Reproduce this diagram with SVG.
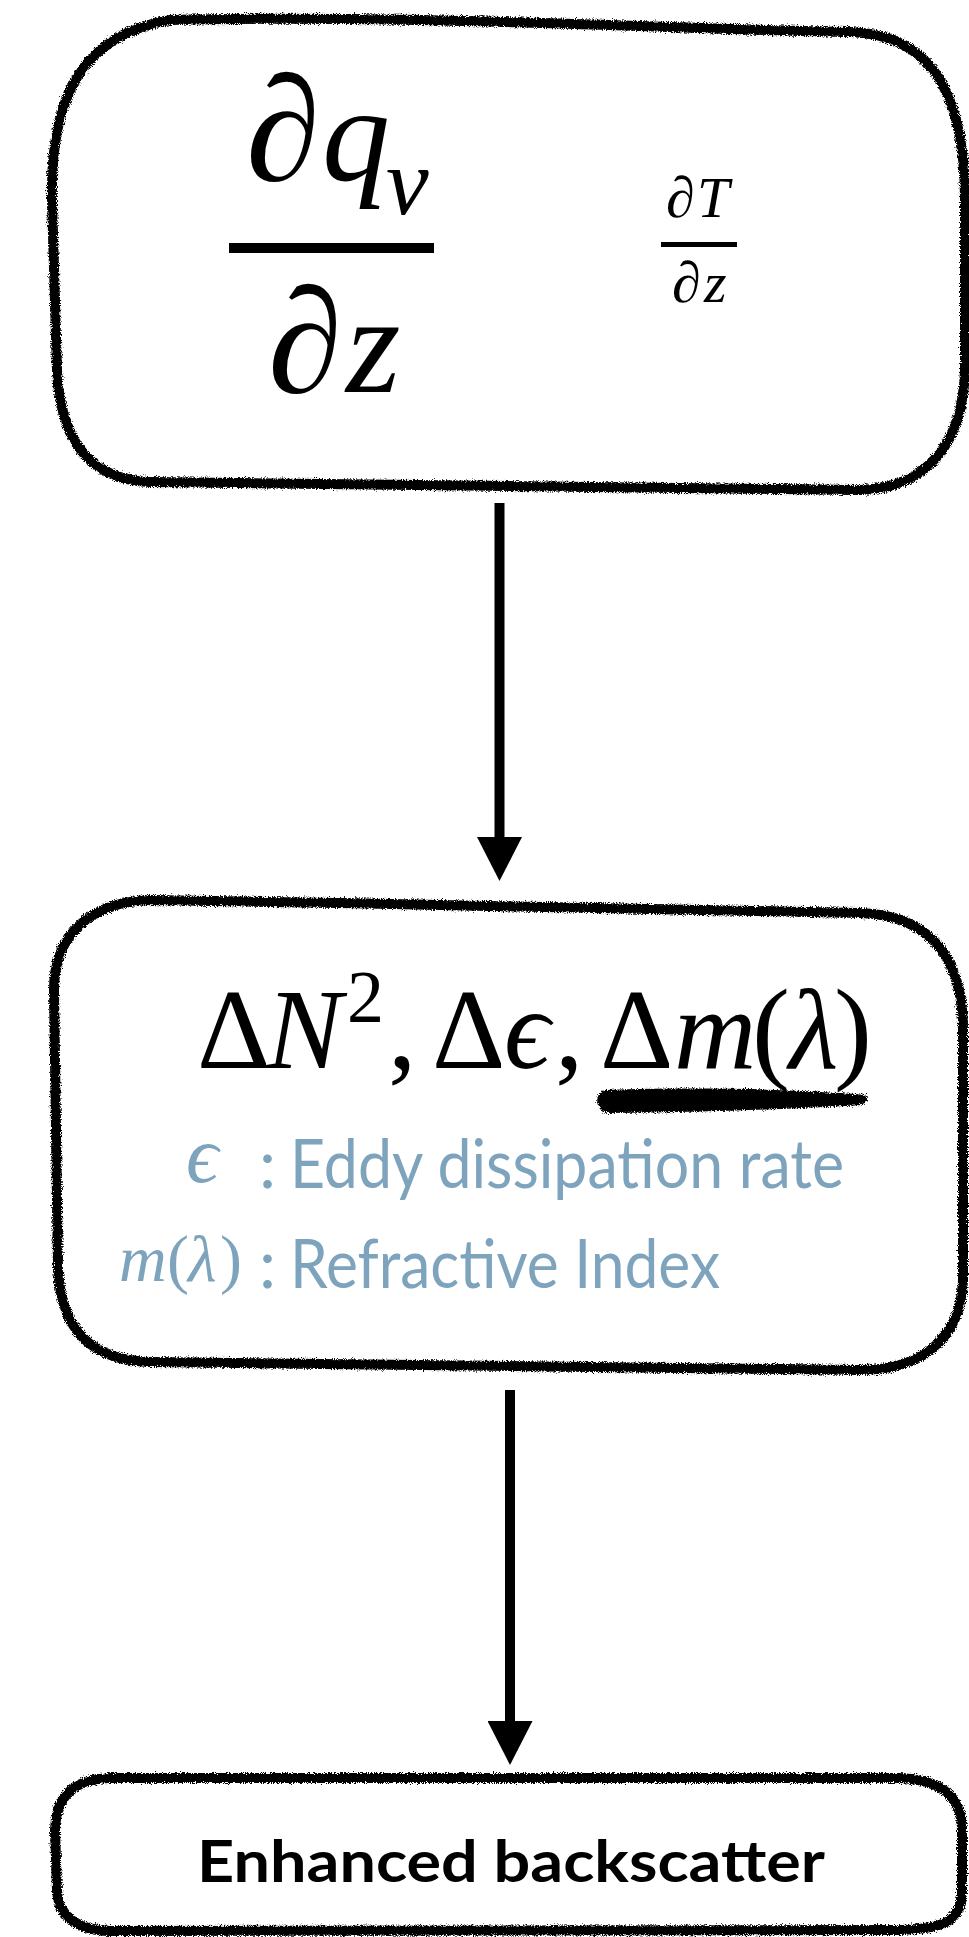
<svg xmlns="http://www.w3.org/2000/svg" width="969" height="1937" viewBox="0 0 969 1937">
<style>
.box{fill:none;stroke:#000;stroke-width:10;stroke-linejoin:round;filter:url(#rough)}
.math{font-family:"Liberation Serif","Times New Roman","DejaVu Serif",serif;fill:#000}
.it{font-style:italic}
.blue{fill:#7ea3bd}
.sans{font-family:Lato,"Open Sans","Liberation Sans",sans-serif}
.conn{stroke:#000;stroke-width:10;fill:none}
</style>
<defs>
<filter id="rough" x="-5%" y="-5%" width="110%" height="110%">
<feTurbulence type="fractalNoise" baseFrequency="1.1" numOctaves="2" seed="3" result="n"/>
<feDisplacementMap in="SourceGraphic" in2="n" scale="6" xChannelSelector="R" yChannelSelector="G"/>
</filter>
<marker id="head" viewBox="0 0 44 45" refX="0" refY="22.5" markerWidth="44" markerHeight="45" markerUnits="userSpaceOnUse" orient="auto">
<path d="M0 0 L44 22.5 L0 45 Z" fill="#000"/>
</marker>
</defs>
<rect width="969" height="1937" fill="#fff"/>

<g id="connectors">
<line class="conn" x1="499.5" y1="503" x2="499.5" y2="837" marker-end="url(#head)"/>
<line class="conn" x1="510" y1="1390" x2="510" y2="1721" marker-end="url(#head)"/>
</g>

<g id="node-gradients">
<path class="box" d="M170 20 C400 14 700 30 850 32 C922 34 965 80 965 200 L965 370 C963 440 930 488 860 490 L150 482 C90 480 60 440 57 370 L52 200 C50 100 80 35 170 20 Z"/>
<text class="math it"><tspan x="246" y="180" font-size="150">∂</tspan><tspan x="322" y="180" font-size="136">q</tspan><tspan x="386" y="214" font-size="96">v</tspan></text>
<rect x="229" y="243" width="205" height="10" fill="#000"/>
<text class="math it"><tspan x="268" y="392" font-size="150">∂</tspan><tspan x="346" y="392" font-size="140">z</tspan></text>
<text class="math it" font-size="58"><tspan x="666" y="217">∂</tspan><tspan x="697" y="217">T</tspan></text>
<rect x="661" y="242" width="76" height="5" fill="#000"/>
<text class="math it" font-size="58"><tspan x="672" y="302">∂</tspan><tspan x="704" y="302">z</tspan></text>
</g>

<g id="node-changes">
<path class="box" d="M150 900 C400 903 700 912 860 913 C932 915 963 960 963 1030 L963 1280 C961 1340 920 1370 860 1370 L150 1362 C90 1360 62 1330 58 1270 L54 990 C54 935 90 902 150 900 Z"/>
<text class="math" font-size="114" y="1068"><tspan x="197">Δ</tspan><tspan x="266" class="it">N</tspan><tspan x="347" y="1022" font-size="74">2</tspan><tspan x="388" y="1068">,</tspan><tspan x="432">Δ</tspan><tspan x="504" class="it">ϵ</tspan><tspan x="555">,</tspan><tspan x="600">Δ</tspan><tspan x="674" class="it">m</tspan><tspan x="752">(</tspan><tspan x="789" class="it">λ</tspan><tspan x="834">)</tspan></text>
<path d="M606 1090 C700 1087 800 1089 866 1095 L868 1100 L862 1105 C800 1109 700 1112 608 1113 C594 1112 594 1091 606 1090 Z" fill="#000" filter="url(#rough)"/>
<text class="math it blue" font-size="80" x="186" y="1182">ϵ</text>
<text class="sans blue" font-size="68" x="259" y="1188">:</text>
<text class="sans blue" font-size="68" x="290" y="1188" textLength="554" lengthAdjust="spacingAndGlyphs">Eddy dissipation rate</text>
<text class="math blue" font-size="66" y="1281"><tspan x="119" class="it">m</tspan><tspan x="167">(</tspan><tspan x="188" class="it">λ</tspan><tspan x="220">)</tspan></text>
<text class="sans blue" font-size="68" x="259" y="1288">:</text>
<text class="sans blue" font-size="68" x="290" y="1288" textLength="430" lengthAdjust="spacingAndGlyphs">Refractive Index</text>
</g>

<g id="node-backscatter">
<path class="box" d="M110 1778 L900 1778 C945 1780 962 1800 962 1830 L962 1895 C960 1920 945 1929 900 1930 L110 1931 C75 1930 58 1915 57 1890 L55 1830 C56 1795 75 1779 110 1778 Z"/>
<text class="sans" font-size="57" font-weight="bold" x="197" y="1882" textLength="628" lengthAdjust="spacingAndGlyphs">Enhanced backscatter</text>
</g>
</svg>
